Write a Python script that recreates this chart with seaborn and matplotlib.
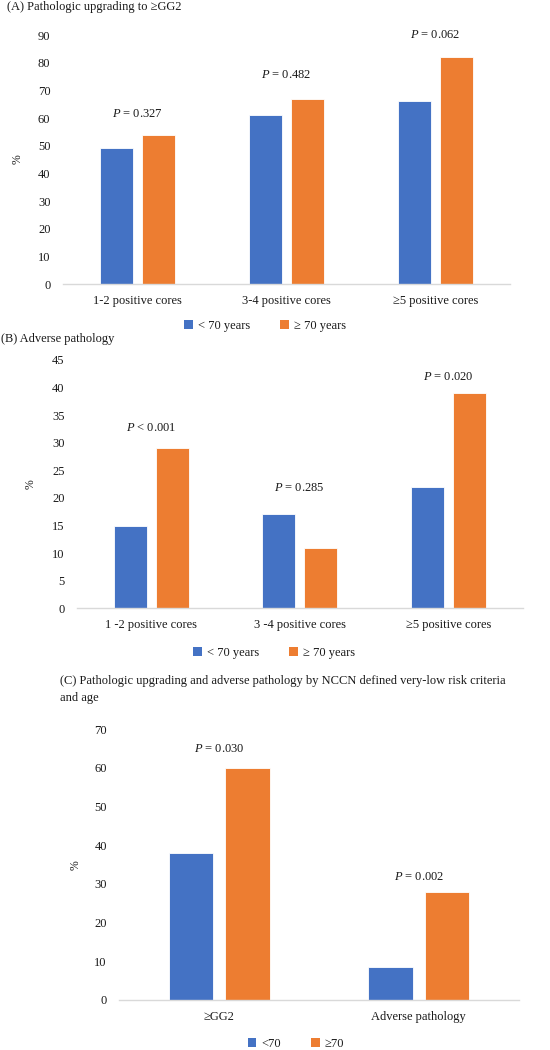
import numpy as np
import pandas as pd
import matplotlib
matplotlib.use("Agg")
import matplotlib.pyplot as plt
import seaborn as sns
from matplotlib.patches import Patch

# ---------------- data ----------------
cats_a = ["1-2 positive cores", "3-4 positive cores", "\u22655 positive cores"]
young_a = [49, 61, 66]
old_a = [54, 67, 82]
pvals_a = ["0.327", "0.482", "0.062"]
prel_a = ["=", "=", "="]

cats_b = ["1 -2 positive cores", "3 -4 positive cores", "\u22655 positive cores"]
young_b = [15, 17, 22]
old_b = [29, 11, 39]
pvals_b = ["0.001", "0.285", "0.020"]
prel_b = ["<", "=", "="]

cats_c = ["\u2265GG2", "Adverse pathology"]
young_c = [38, 8.5]
old_c = [60, 28]
pvals_c = ["0.030", "0.002"]
prel_c = ["=", "="]

groups_ab = ["< 70 years", "\u2265 70 years"]
groups_c = ["<70", "\u226570"]

titles = ["(A) Pathologic upgrading to \u2265GG2",
          "(B) Adverse pathology",
          "(C) Pathologic upgrading and adverse pathology by NCCN defined very-low risk criteria\nand age"]

# ---------------- style ----------------
sns.set_theme(style="white")
plt.rcParams["font.family"] = ["Liberation Serif", "DejaVu Serif"]
plt.rcParams["mathtext.fontset"] = "custom"
plt.rcParams["mathtext.it"] = "Liberation Serif:italic"
plt.rcParams["mathtext.rm"] = "Liberation Serif"

BLUE = "#4472C4"
ORANGE = "#ED7D31"
TXT = "#1a1a1a"
FS = 9

W, H = 550, 1050
fig = plt.figure(figsize=(W / 100, H / 100), dpi=100)


def px_axes(x0, x1, ytop, ybot):
    return fig.add_axes([x0 / W, 1 - ybot / H, (x1 - x0) / W, (ybot - ytop) / H])


def make_panel(ax, cats, young, old, groups, ymax, ystep, pvals, prels, poffs):
    df = pd.DataFrame({
        "cat": cats * 2,
        "val": list(young) + list(old),
        "grp": [groups[0]] * len(cats) + [groups[1]] * len(cats),
    })
    sns.barplot(data=df, x="cat", y="val", hue="grp", order=cats,
                hue_order=groups, palette=[BLUE, ORANGE], width=0.564,
                gap=0.21, ax=ax, legend=False, edgecolor="white",
                linewidth=0.6, saturation=1)
    ax.set_xlim(-0.5, len(cats) - 0.5)
    ax.set_ylim(0, ymax)
    ax.set_yticks(np.arange(0, ymax + 0.1, ystep))
    ax.set_yticklabels([f"{int(v)}" for v in np.arange(0, ymax + 0.1, ystep)])
    ax.set_xlabel("")
    ax.set_ylabel("%", fontsize=FS - 0.5, color=TXT)
    ax.tick_params(axis="both", length=0, labelsize=FS, colors=TXT)
    ax.tick_params(axis="y", pad=9)
    ax.tick_params(axis="x", pad=8)
    for s in ["top", "right", "left"]:
        ax.spines[s].set_visible(False)
    ax.spines["bottom"].set_color("#d9d9d9")
    ax.spines["bottom"].set_linewidth(1.0)
    ax.patch.set_alpha(0)
    for i, (pv, rel, off) in enumerate(zip(pvals, prels, poffs)):
        top = max(young[i], old[i])
        ax.annotate(f"$P$ {rel} {pv}", xy=(i, top), xytext=(0, off),
                    textcoords="offset pixels", ha="center", va="center",
                    fontsize=FS, color=TXT)


# Panel A
axA = px_axes(63, 510, 35, 284)
make_panel(axA, cats_a, young_a, old_a, groups_ab, 90, 10,
           pvals_a, prel_a, [21, 24, 22])
axA.yaxis.set_label_coords(-0.089, 0.5)

# Panel B
axB = px_axes(77, 522.5, 360, 608.3)
make_panel(axB, cats_b, young_b, old_b, groups_ab, 45, 5,
           pvals_b, prel_b, [20, 26, 16])
axB.yaxis.set_label_coords(-0.09, 0.5)

# Panel C
axC = px_axes(119.3, 518.7, 729.3, 1000)
make_panel(axC, cats_c, young_c, old_c, groups_c, 70, 10,
           pvals_c, prel_c, [19, 15])
axC.yaxis.set_label_coords(-0.094, 0.5)

# titles
fig.text(7 / W, 1 - 7 / H, titles[0], fontsize=FS, va="center", ha="left", color=TXT)
fig.text(1 / W, 1 - 339 / H, titles[1], fontsize=FS, va="center", ha="left", color=TXT)
fig.text(59.7 / W, 1 - 689.5 / H, titles[2], fontsize=FS, va="center", ha="left",
         color=TXT, linespacing=1.5)


def legend(labels, cx, cy):
    handles = [Patch(facecolor=BLUE, edgecolor="none", label=labels[0]),
               Patch(facecolor=ORANGE, edgecolor="none", label=labels[1])]
    fig.legend(handles=handles, loc="center", bbox_to_anchor=(cx / W, 1 - cy / H),
               ncol=2, frameon=False, fontsize=FS, handlelength=0.7,
               handleheight=0.7, handletextpad=0.4, columnspacing=2.4,
               labelcolor=TXT)


legend(groups_ab, 265, 326)
legend(groups_ab, 274, 653)
legend(groups_c, 296, 1044)

fig.savefig("out.png", dpi=100, facecolor="white")
